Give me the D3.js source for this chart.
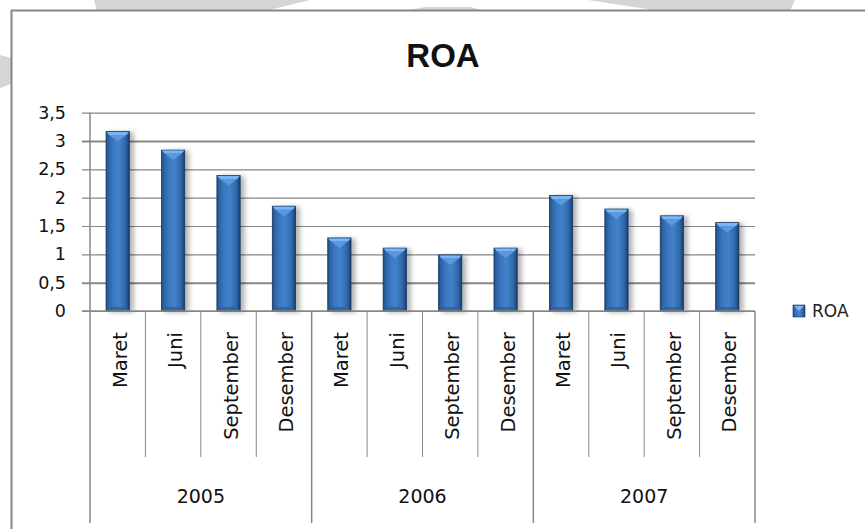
<!DOCTYPE html>
<html><head><meta charset="utf-8">
<script src="https://cdn.jsdelivr.net/npm/d3@7"></script>
<style>body{margin:0;background:#fff}svg{display:block}</style>
</head><body>
<svg id="c" width="865" height="529"></svg>
<script>
const months = ["Maret","Juni","September","Desember","Maret","Juni","September","Desember","Maret","Juni","September","Desember"];
const years = ["2005","2006","2007"];
const roa = [3.17,2.84,2.39,1.85,1.29,1.11,0.99,1.11,2.04,1.80,1.68,1.56];
const yTicks = [0,0.5,1,1.5,2,2.5,3,3.5];
const seriesName = "ROA";
const chartTitle = "ROA";

(function(){
const svg = d3.select("#c");
const font = "'DejaVu Sans', sans-serif";
const gridC = "#878787";

// watermark shapes
const wm = svg.append("g").attr("fill","#d5d5d5");
wm.append("path").attr("d","M94,0 L310,0 L265,11 L97,11 Z");
wm.append("path").attr("d","M405,11 L425,7 L470,7 L485,11 Z");
wm.append("path").attr("d","M588,0 L795,0 L790,11 L660,11 Z");
wm.append("path").attr("d","M0,55 L11,58 L11,84 L0,88 Z");

// chart frame
svg.append("rect").attr("x",11.5).attr("y",10.5).attr("width",900).attr("height",600)
  .attr("fill","#fff").attr("stroke","#868686").attr("stroke-width",2);

const defs = svg.append("defs");
const g = defs.append("linearGradient").attr("id","barG").attr("x1","0").attr("x2","1").attr("y1","0").attr("y2","0");
[[0,"#1d4575"],[0.08,"#2c60a0"],[0.3,"#3b77c0"],[0.55,"#4282cb"],[0.82,"#3268aa"],[0.93,"#24508a"],[1,"#173660"]]
 .forEach(([o,c])=>g.append("stop").attr("offset",o).attr("stop-color",c));
const f = defs.append("filter").attr("id","sh").attr("x","-20%").attr("y","-5%").attr("width","160%").attr("height","115%");
f.append("feGaussianBlur").attr("in","SourceAlpha").attr("stdDeviation",2.5).attr("result","b");
f.append("feOffset").attr("in","b").attr("dx",4).attr("dy",1).attr("result","o");
f.append("feComponentTransfer").attr("in","o").attr("result","t")
  .append("feFuncA").attr("type","linear").attr("slope",0.3);
const fm = f.append("feMerge");
fm.append("feMergeNode").attr("in","t");
fm.append("feMergeNode").attr("in","SourceGraphic");

const pL = 90, pR = 755, pT = 112.7, pB = 311;
const y = d3.scaleLinear().domain([0,3.5]).range([pB, pT]);
const x = d3.scaleBand().domain(d3.range(months.length)).range([pL,pR]).padding(0);
const loc = d3.formatLocale({decimal:",",thousands:".",grouping:[3],currency:["",""]});
const fmt = loc.format("~g");

// title
svg.append("text").attr("x",443).attr("y",67).attr("text-anchor","middle")
  .attr("font-family","'Liberation Sans', Arial, sans-serif").attr("font-weight","bold")
  .attr("font-size",33).attr("fill","#111").text(chartTitle);

// y axis with gridlines
const ya = svg.append("g").attr("transform",`translate(${pL},0)`)
  .call(d3.axisLeft(y).tickValues(yTicks).tickFormat(fmt).tickSize(-(pR-pL)).tickPadding(24));
ya.select(".domain").remove();
ya.selectAll(".tick line").attr("x1",-8).attr("x2",pR-pL).attr("stroke",gridC)
  .attr("stroke-width",d=>(d===3||d===0.5)?2:1.2);
ya.selectAll(".tick text").attr("font-family",font).attr("font-size",17.5).attr("fill","#111");

// vertical axis line
svg.append("line").attr("x1",pL).attr("x2",pL).attr("y1",pT).attr("y2",523)
  .attr("stroke",gridC).attr("stroke-width",1.5);

// category separators
const nb = months.length, perYear = nb/years.length;
for (let i=1;i<=nb;i++){
  const xx = pL + i*x.bandwidth();
  const long = (i % perYear === 0);
  svg.append("line").attr("x1",xx).attr("x2",xx).attr("y1",pB).attr("y2",long?523:457)
    .attr("stroke",gridC).attr("stroke-width",long?1.5:1);
}

// bars
const bw = x.bandwidth()*0.42;
const bars = svg.append("g").selectAll("g").data(roa).join("g")
  .attr("transform",(d,i)=>`translate(${x(i)+x.bandwidth()/2-bw/2},0)`);
bars.append("rect").attr("x",0).attr("width",bw).attr("y",d=>y(d)).attr("height",d=>pB-y(d))
  .attr("fill","url(#barG)").attr("stroke","#173a68").attr("stroke-width",0.8).attr("filter","url(#sh)");
bars.append("path").attr("d",d=>{const t=y(d);return `M0.5,${t+0.5} L${bw-0.5},${t+0.5} L${bw-3},${t+3.5} L3,${t+3.5} Z`;})
  .attr("fill","#79b6f4");
bars.append("path").attr("d",d=>{const t=y(d);return `M3,${t+3.5} L${bw-3},${t+3.5} L${bw/2},${t+10} Z`;})
  .attr("fill","#5d9be2").attr("opacity",0.9);
bars.append("path").attr("d",()=>`M0.5,${pB-0.5} L${bw-0.5},${pB-0.5} L${bw-3},${pB-4} L3,${pB-4} Z`)
  .attr("fill","#2f5f9c").attr("opacity",0.8);

// zero line
svg.append("line").attr("x1",pL-8).attr("x2",pR).attr("y1",pB).attr("y2",pB)
  .attr("stroke",gridC).attr("stroke-width",1.5);

// month labels
svg.append("g").selectAll("text").data(months).join("text")
  .attr("transform",(d,i)=>`translate(${x(i)+x.bandwidth()/2+9},332) rotate(-90)`)
  .attr("text-anchor","end").attr("font-family",font).attr("font-size",19.5).attr("fill","#111")
  .text(d=>d);

// year labels
svg.append("g").selectAll("text").data(years).join("text")
  .attr("x",(d,i)=>x(i*perYear) + perYear*x.bandwidth()/2).attr("y",503)
  .attr("text-anchor","middle").attr("font-family",font).attr("font-size",19).attr("fill","#111")
  .text(d=>d);

// legend
const lg = svg.append("g").attr("transform","translate(793,305)");
lg.append("rect").attr("width",12).attr("height",12).attr("fill","url(#barG)").attr("stroke","#173a68").attr("stroke-width",0.6);
lg.append("path").attr("d","M1,1 L11,1 L6,6 Z").attr("fill","#79b6f4");
lg.append("text").attr("x",19).attr("y",12).attr("font-family",font).attr("font-size",17)
  .attr("fill","#222").text(seriesName);
})();
</script>
</body></html>
